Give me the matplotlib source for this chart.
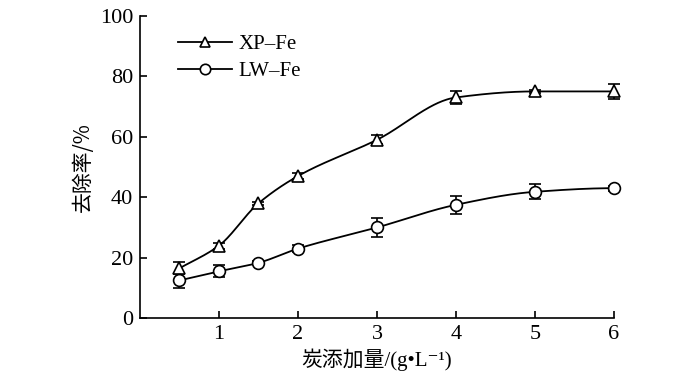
import numpy as np
import matplotlib
matplotlib.use("Agg")
import matplotlib.pyplot as plt

dose = [0.5, 1, 1.5, 2, 3, 4, 5, 6]
xp_fe = [16.5, 24.0, 38.0, 47.0, 59.0, 73.0, 75.0, 75.0]
xp_err = [2.0, 1.0, 0.5, 1.0, 1.5, 2.0, 0.5, 2.5]
lw_fe = [12.5, 15.5, 18.3, 23.0, 30.0, 37.5, 41.8, 43.0]
lw_err = [2.5, 2.0, 0.5, 1.2, 3.0, 3.0, 2.5, 0.8]
xticks = [1, 2, 3, 4, 5, 6]
yticks = [0, 20, 40, 60, 80, 100]


def pchip(x, y, xs):
    x = np.asarray(x, float); y = np.asarray(y, float)
    h = np.diff(x); d = np.diff(y) / h
    n = len(x); m = np.zeros(n)
    for k in range(1, n - 1):
        if d[k - 1] * d[k] > 0:
            w1 = 2 * h[k] + h[k - 1]; w2 = h[k] + 2 * h[k - 1]
            m[k] = (w1 + w2) / (w1 / d[k - 1] + w2 / d[k])
    m[0] = d[0]; m[-1] = 0
    out = np.empty_like(xs)
    for i, xv in enumerate(xs):
        k = min(max(np.searchsorted(x, xv) - 1, 0), n - 2)
        t = (xv - x[k]) / h[k]
        h00 = 2*t**3 - 3*t**2 + 1; h10 = t**3 - 2*t**2 + t
        h01 = -2*t**3 + 3*t**2; h11 = t**3 - t**2
        out[i] = h00*y[k] + h10*h[k]*m[k] + h01*y[k+1] + h11*h[k]*m[k+1]
    return out

plt.rcParams['font.family'] = ['Liberation Serif', 'Noto Sans CJK SC', 'DejaVu Sans']

fig = plt.figure(figsize=(7, 3.77), dpi=100)
ax = fig.add_axes([0.2, 0.156, 0.677, 0.802])

xs = np.linspace(dose[0], dose[-1], 300)
for y, e, mk, lab in [(xp_fe, xp_err, '^', 'XP–Fe'), (lw_fe, lw_err, 'o', 'LW–Fe')]:
    ax.plot(xs, pchip(dose, y, xs), color='black', lw=1.3, clip_on=False)
    eb = ax.errorbar(dose, y, yerr=e, fmt='none', ecolor='black', elinewidth=1.2, capsize=4, capthick=1.2)
    for art in eb.get_children():
        art.set_clip_on(False)
    ax.plot(dose, y, linestyle='none', marker=mk, markersize=9 if mk == '^' else 8.5,
            markerfacecolor='white', markeredgecolor='black', markeredgewidth=1.2, clip_on=False, zorder=4)
    ax.plot([], [], color='black', lw=1.3, marker=mk, markersize=7.5, markerfacecolor='white',
            markeredgecolor='black', markeredgewidth=1.2, label=lab)

ax.set_xlim(0, 6)
ax.set_ylim(0, 100)
ax.set_xticks(xticks)
ax.set_yticks(yticks)
ax.tick_params(direction='in', length=5, width=1.2, labelsize=16, colors='black', pad=5)
for s in ['top', 'right']:
    ax.spines[s].set_visible(False)
for s in ['left', 'bottom']:
    ax.spines[s].set_linewidth(1.2)

ax.set_ylabel('去除率/%', fontsize=15, family=['Noto Sans CJK SC', 'Liberation Serif'], labelpad=4)
ax.set_xlabel('炭添加量/(g•L⁻¹)', fontsize=15,
              family=['Liberation Serif', 'Noto Sans CJK SC', 'DejaVu Sans'], labelpad=3)

ax.legend(loc='upper left', bbox_to_anchor=(0.04, 1.0), frameon=False, fontsize=15,
          handlelength=2.6, handletextpad=0.3, labelspacing=0.35)

fig.savefig('out.png', dpi=100)
